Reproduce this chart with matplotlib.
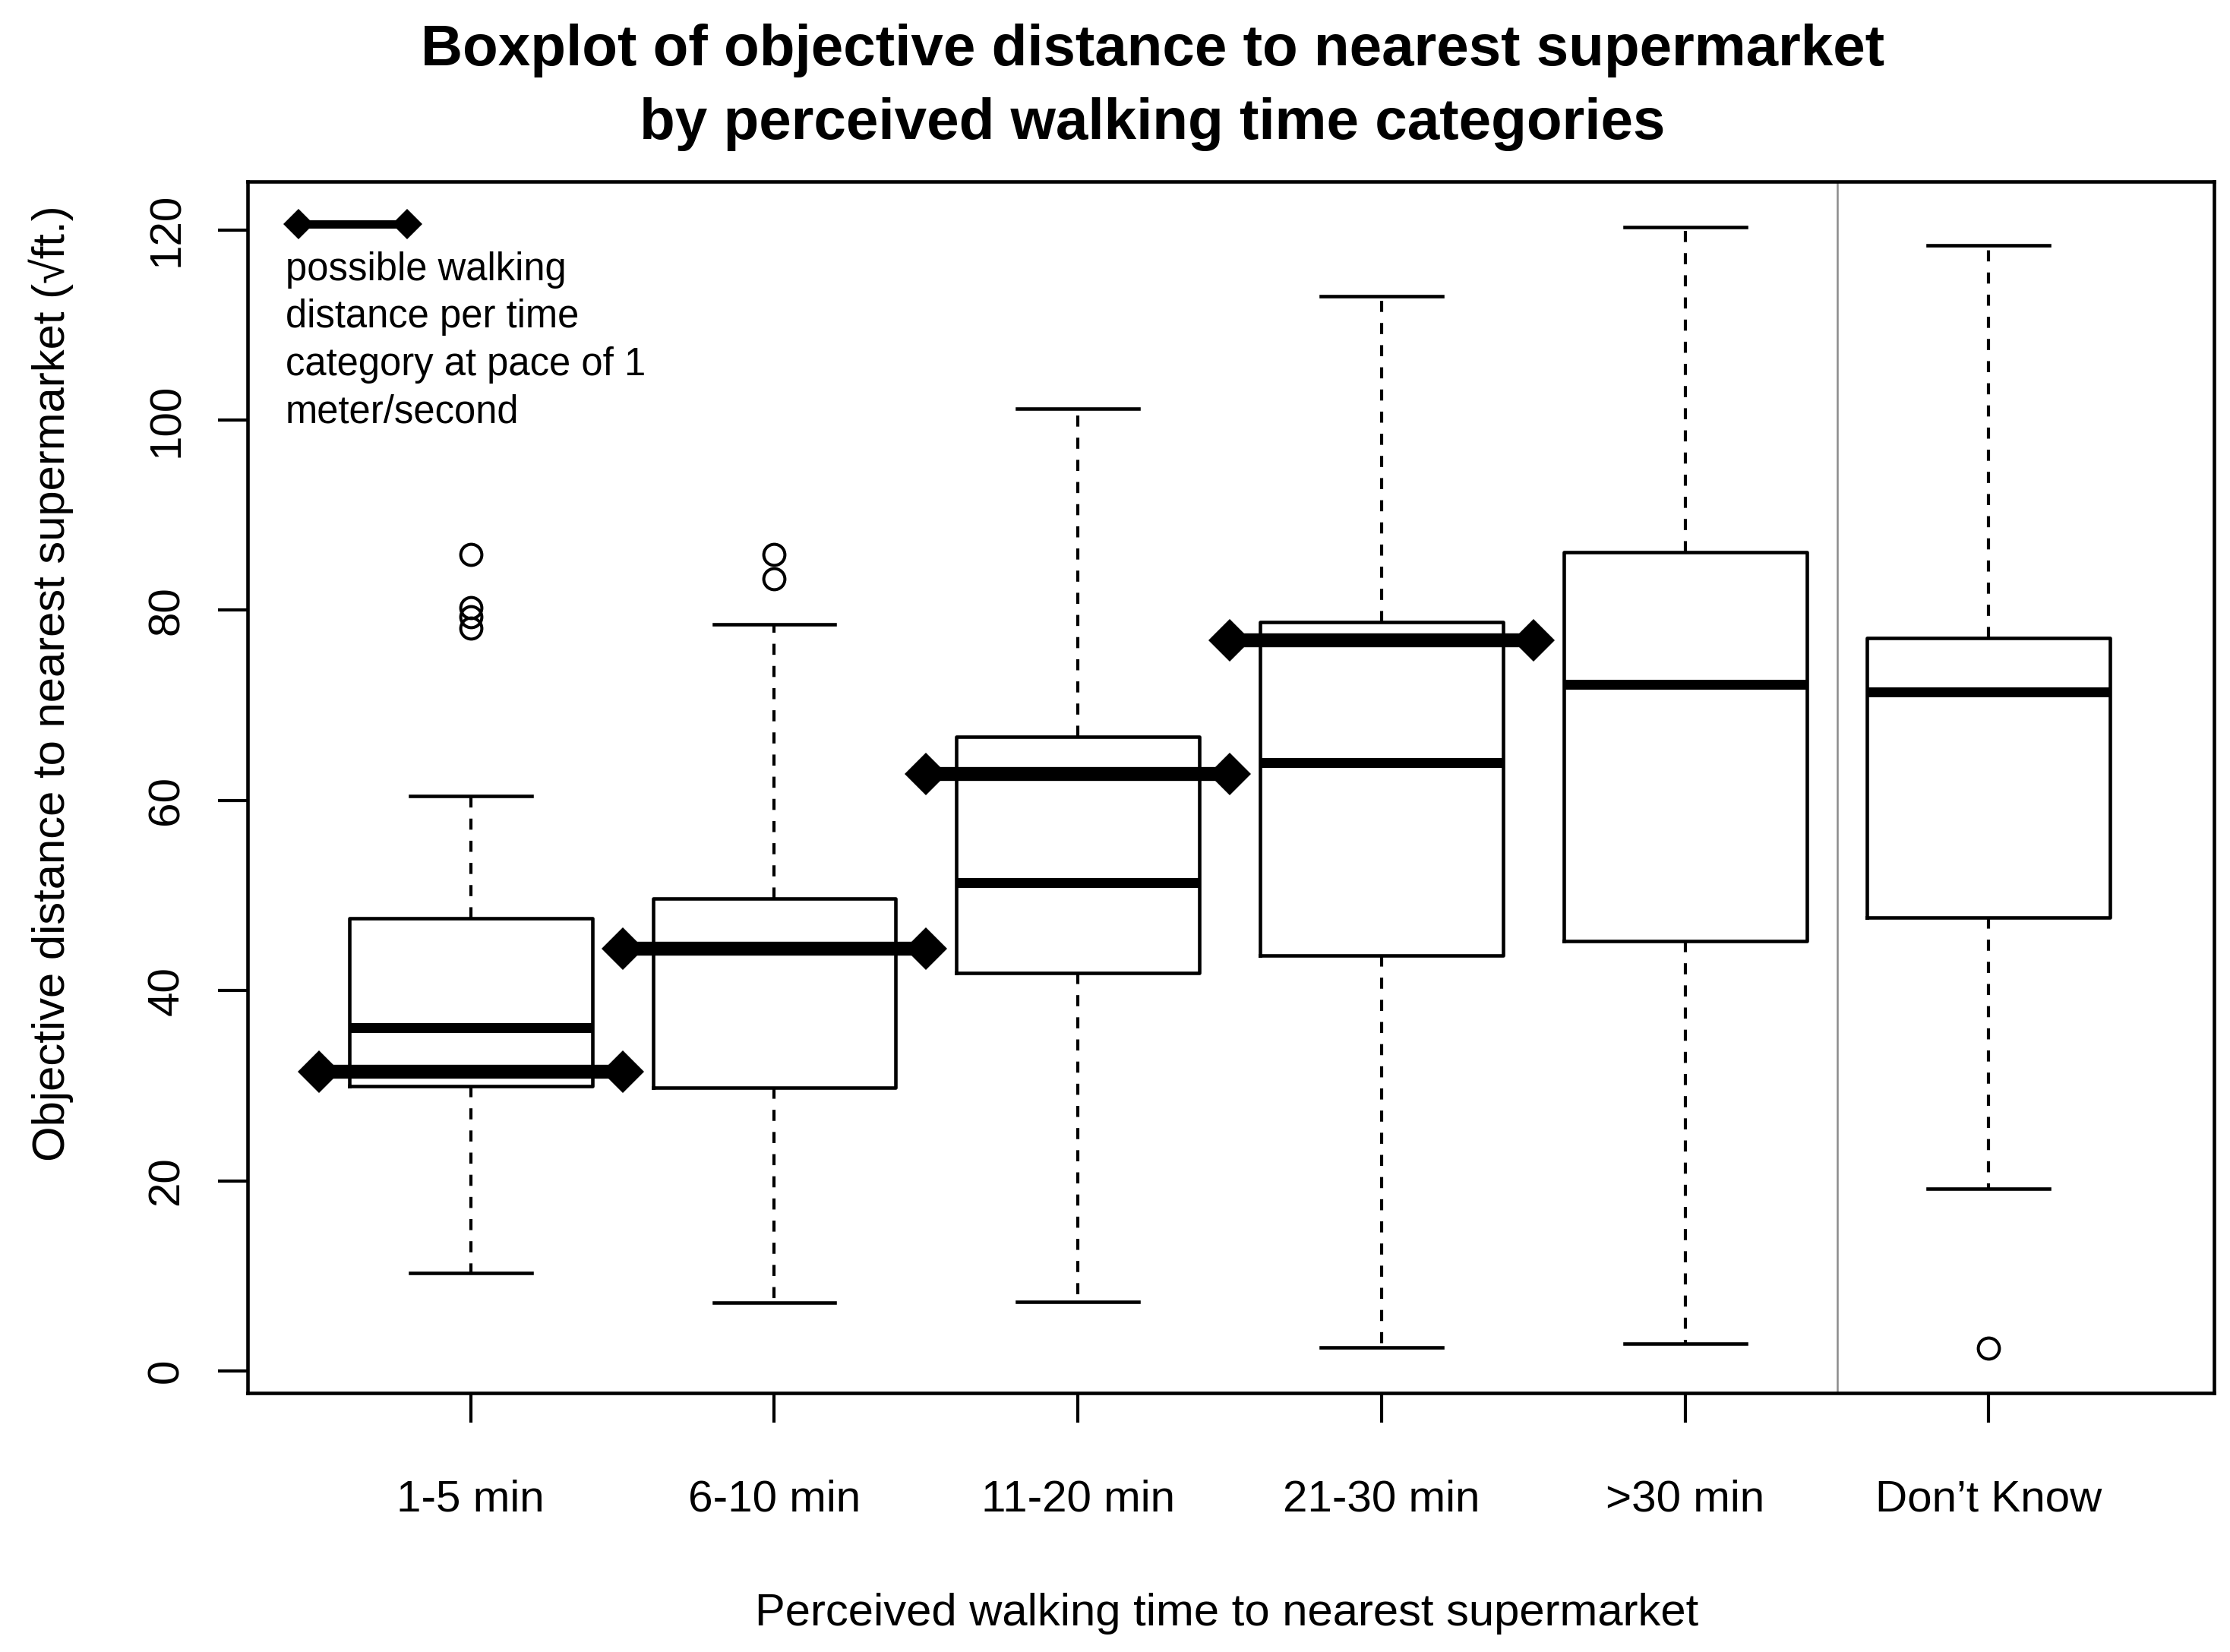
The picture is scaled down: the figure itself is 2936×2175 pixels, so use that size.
import numpy as np
import matplotlib.pyplot as plt

plt.rcParams['font.family'] = ['Liberation Sans', 'DejaVu Sans']

# perceived walking time categories
categories = ['1-5 min', '6-10 min', '11-20 min', '21-30 min', '>30 min', 'Don\u2019t Know']

# box statistics (sqrt of feet)
whisker_lo = [10.3, 7.2, 7.25, 2.5, 2.9, 19.2]
quart_lo = [30.0, 29.8, 41.9, 43.7, 45.2, 47.7]
medians = [36.1, 44.4, 51.4, 64.0, 72.2, 71.4]
quart_hi = [47.6, 49.7, 66.7, 78.8, 86.1, 77.1]
whisker_hi = [60.5, 78.5, 101.2, 113.0, 120.3, 118.4]
outliers = [[85.9, 80.3, 79.3, 78.1], [85.9, 83.3], [], [], [], [2.4]]

# walking distance at 1 m/s for the timed categories
walk_cat = [1, 2, 3, 4]
walk_dist = [31.5, 44.4, 62.8, 76.85]

legend_lines = ['possible walking', 'distance per time',
                'category at pace of 1', 'meter/second']

fig = plt.figure(figsize=(29.36, 21.75), dpi=100)
ax = fig.add_axes([0.11087, 0.15664, 0.88184, 0.73334])

stats = []
for i in range(len(categories)):
    stats.append(dict(med=medians[i], q1=quart_lo[i], q3=quart_hi[i],
                      whislo=whisker_lo[i], whishi=whisker_hi[i],
                      fliers=outliers[i], label=categories[i]))

pos = np.arange(1, len(categories) + 1)
ax.bxp(stats, positions=pos, widths=0.8, capwidths=0.4,
       boxprops=dict(color='black', linewidth=3.3),
       medianprops=dict(color='black', linewidth=9.4, solid_capstyle='butt'),
       whiskerprops=dict(color='black', linewidth=3.0, linestyle=(0, (3.5, 3.5))),
       capprops=dict(color='black', linewidth=3.3),
       flierprops=dict(marker='o', markerfacecolor='none', markeredgecolor='black',
                       markersize=20, markeredgewidth=2.9, linestyle='none'))

# thick lines = possible walking distance per category
for c, d in zip(walk_cat, walk_dist):
    ax.plot([c - 0.5, c + 0.5], [d, d], color='black', lw=13.2, marker='D',
            ms=28.5, mew=0, solid_capstyle='butt', zorder=5)

ax.axvline(5.5, color='#8c8c8c', lw=1.8, zorder=1)

ax.set_xlim(0.264, 6.741)
ax.set_ylim(-2.33, 125.06)

ax.set_xticks(pos)
ax.set_xticklabels(categories, fontsize=42)
ax.set_yticks(range(0, 121, 20))
ax.set_yticklabels([str(v) for v in range(0, 121, 20)], fontsize=42,
                   rotation=90, va='center')
ax.tick_params(axis='both', length=28, width=3)
ax.tick_params(axis='x', pad=53.6)
ax.tick_params(axis='y', pad=28.8)
for s in ax.spines.values():
    s.set_linewidth(3.3)

ax.set_xlabel('Perceived walking time to nearest supermarket', fontsize=43,
              va='baseline')
ax.xaxis.set_label_coords(0.498, -0.1917)
ax.set_ylabel('Objective distance to nearest supermarket (\u221aft.)', fontsize=43,
              ha='center', va='center')
ax.yaxis.set_label_coords(-0.0997, 0.5858)

# legend key
ax.plot([0.02588, 0.0813], [0.9653, 0.9653], transform=ax.transAxes,
        color='black', lw=7.9, marker='D', ms=19.9, mew=0, solid_capstyle='butt')
for k, line in enumerate(legend_lines):
    ax.text(0.0195, 0.9187 - k * 0.0392, line, transform=ax.transAxes,
            fontsize=36.5, ha='left', va='baseline')

fig.text(0.5168, 0.9605, 'Boxplot of objective distance to nearest supermarket',
         fontsize=55, fontweight='bold', ha='center', va='baseline')
fig.text(0.5168, 0.9159, 'by perceived walking time categories',
         fontsize=55, fontweight='bold', ha='center', va='baseline')

fig.savefig('out.png', dpi=100)
